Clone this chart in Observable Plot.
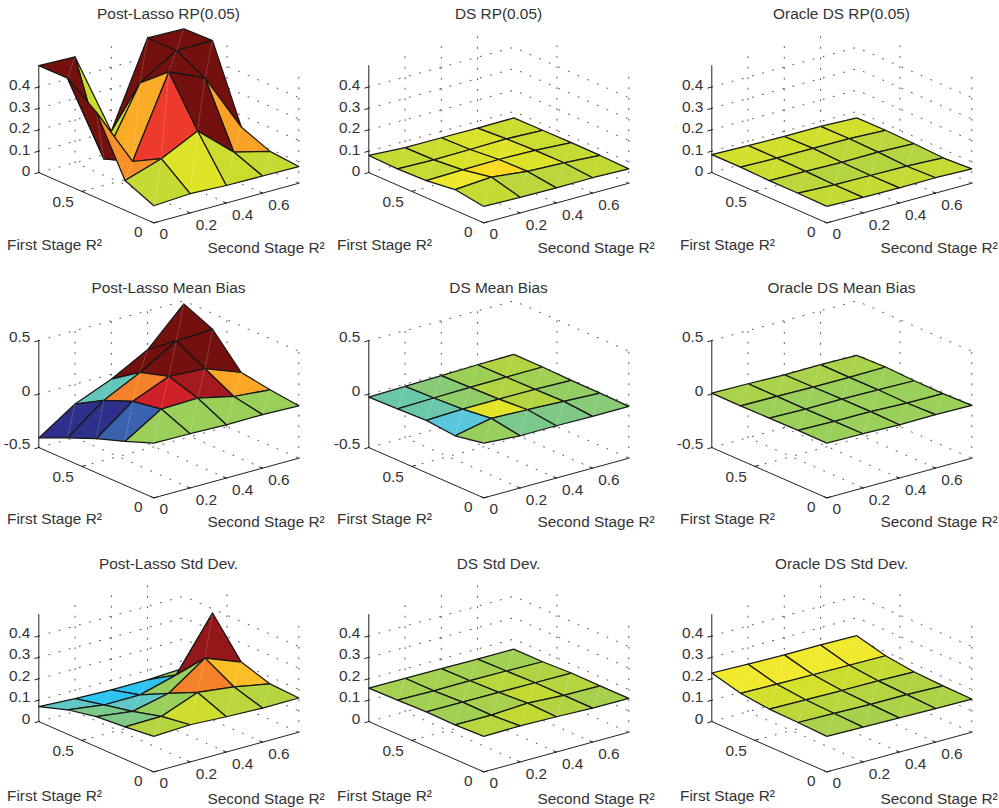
<!DOCTYPE html>
<html>
<head>
<meta charset="utf-8">
<script src="https://cdn.jsdelivr.net/npm/d3@7"></script>
<script src="https://cdn.jsdelivr.net/npm/@observablehq/plot@0.6"></script>
<style>
html,body{margin:0;padding:0;background:#fff}
#fig{position:relative;width:999px;height:808px;overflow:hidden}
#fig svg{position:absolute;background:transparent}
</style>
</head>
<body>
<div id="fig"></div>
<script>
// Grid of the design: rows are First Stage R2 (index i), columns are Second Stage R2 (index j)
const firstGrid = [0, 0.2, 0.4, 0.6, 0.8];
const secondGrid = [0, 0.2, 0.4, 0.6, 0.8];
const firstTicks = [0, 0.5];
const secondTicks = [0, 0.2, 0.4, 0.6];
const rpTicks = [0, 0.1, 0.2, 0.3, 0.4];
const biasTicks = [-0.5, 0, 0.5];
const sdTicks = [0, 0.1, 0.2, 0.3, 0.4];
const rpRange = [0, 0.5];
const biasRange = [-0.5, 0.5];
const sdRange = [0, 0.5];
const rowMetrics = ["RP(0.05)", "Mean Bias", "Std Dev."];
const colMethods = ["Post-Lasso", "DS", "Oracle DS"];
const firstLabel = "First Stage R²";
const secondLabel = "Second Stage R²";

// Surface heights, z[i][j]
const zPostLassoRP = [
 [.08,.09,.082,.08,.078],
 [.139,.195,.278,.133,.09],
 [.40,.123,.495,.42,.145],
 [.50,.077,.385,.49,.49],
 [.50,.494,.10,.49,.486]];
const zDsRP = [
 [.077,.073,.071,.072,.067],
 [.097,.109,.089,.083,.071],
 [.08,.084,.086,.082,.072],
 [.076,.072,.074,.077,.071],
 [.08,.07,.07,.069,.07]];
const zOracleRP = [
 [.077,.073,.071,.072,.067],
 [.08,.073,.07,.067,.06],
 [.08,.077,.073,.074,.067],
 [.084,.08,.079,.078,.071],
 [.084,.08,.076,.077,.07]];
const zPostLassoBias = [
 [.012,.007,-.002,0,-.01],
 [-.09,.12,.13,.052,.022],
 [-.182,.074,.214,.194,.066],
 [-.292,-.034,.134,.336,.352],
 [-.41,-.186,-.046,.136,.472]];
const zDsBias = [
 [.012,-.012,-.011,-.016,-.016],
 [-.037,.033,.021,.006,-.009],
 [-.011,.002,.003,.001,-.008],
 [-.02,-.012,-.005,-.002,0],
 [-.028,-.021,-.013,-.004,0]];
const zOracleBias = [
 [.012,.007,-.002,0,-.006],
 [.013,.005,.003,-.009,-.014],
 [.01,.002,.003,-.003,-.011],
 [.008,.003,-.002,-.005,0],
 [.009,.004,-.005,-.003,-.009]];
const zPostLassoSd = [
 [.166,.174,.165,.159,.16],
 [.152,.154,.22,.2,.167],
 [.141,.119,.157,.275,.21],
 [.114,.09,.091,.138,.381],
 [.07,.061,.055,.056,.064]];
const zDsSd = [
 [.166,.169,.165,.159,.158],
 [.161,.16,.17,.16,.158],
 [.163,.162,.161,.16,.159],
 [.159,.156,.157,.156,.153],
 [.156,.156,.155,.153,.153]];
const zOracleSd = [
 [.166,.163,.16,.157,.155],
 [.172,.168,.164,.163,.158],
 [.176,.173,.17,.169,.164],
 [.191,.187,.185,.183,.181],
 [.227,.222,.219,.219,.216]];

// Facet colour level of each cell, c[i][j]
const cPostLassoRP = [
 [.08,.12,.09,.08],
 [.30,.38,.5,.28],
 [.5,.265,.5,.5],
 [.5,.09,.5,.5]];
const cDsRP = [
 [.08,.06,.06,.075],
 [.15,.2,.115,.08],
 [.08,.11,.12,.09],
 [.08,.09,.11,.09]];
const cOracleRP = [
 [.08,.08,.08,.08],
 [.06,.05,.05,.05],
 [.09,.08,.065,.06],
 [.10,.10,.10,.10]];
const cPostLassoBias = [
 [.005,.005,.005,.005],
 [-.35,.43,.47,.27],
 [-.47,.32,.5,.5],
 [-.47,-.15,.5,.5]];
const cDsBias = [
 [0,-.09,-.08,-.05],
 [-.2,.125,.05,-.01],
 [-.13,-.02,.045,.015],
 [-.13,-.05,.01,.045]];
const cOracleBias = [
 [.005,.005,.005,.005],
 [.005,.005,.005,.005],
 [.005,.005,.005,.005],
 [.03,.03,.03,.03]];
const cPostLassoSd = [
 [.05,.095,.06,.05],
 [-.08,0,.32,.24],
 [-.09,-.17,0,.48],
 [-.17,-.25,-.25,0]];
const cDsSd = [
 [.055,.075,.045,.025],
 [.015,.025,.075,.05],
 [.015,.025,.055,.04],
 [.02,.02,.02,.015]];
const cOracleSd = [
 [.03,.025,.035,.035],
 [.06,.055,.05,.04],
 [.1,.105,.09,.08],
 [.155,.155,.155,.155]];

// Colour map (muted jet)
const colorLevels = [-.5,-.42,-.35,-.25,-.2,-.15,-.08,0,.04,.08,.12,.16,.2,.26,.32,.38,.43,.47,.5];
const colorValues = ["#2c2a83","#2f3a96","#3b62ae","#2dc4f2","#5ac8dc","#62c7b8","#7fc885","#97ce5c","#b0d344","#c5da32","#dfe327","#f2ea2e","#fddb20","#fcb027","#f5822a","#ee3a2c","#d02027","#a41a1e","#74110f"];

const panels = [
 [zPostLassoRP,cPostLassoRP,rpTicks,rpRange],[zDsRP,cDsRP,rpTicks,rpRange],[zOracleRP,cOracleRP,rpTicks,rpRange],
 [zPostLassoBias,cPostLassoBias,biasTicks,biasRange],[zDsBias,cDsBias,biasTicks,biasRange],[zOracleBias,cOracleBias,biasTicks,biasRange],
 [zPostLassoSd,cPostLassoSd,sdTicks,sdRange],[zDsSd,cDsSd,sdTicks,sdRange],[zOracleSd,cOracleSd,sdTicks,sdRange]];

// Page layout and 3-D camera (layout only, no data)
const W = 328, H = 260;
const colLeft = [0, 330, 671.4];
const colShift = [0, 0, 2];
const rowTop = [0, 274.5, 548.5];
const titleShift = [0, -1, .5];
const labelShift = [0, -1.5, 1.5];
const zLabelLift = [-1.5, -3.5, -3];
const cam = {ox:153.3, oy:222.4, sx:181.25, sy:-49.6, fx:-143.75, fy:-62.9, zh:107};
const sMax = secondGrid[4], fMax = firstGrid[4];
const ink = "#333", font = "'Liberation Sans', Arial, sans-serif";

function panel(r, c, [Z, C, zTicks, [zMin, zMax]]) {
  const zk = cam.zh / (zMax - zMin);
  const pt = (s, f, z) => ({u: cam.ox + colShift[c] + s*cam.sx + f*cam.fx, v: cam.oy + s*cam.sy + f*cam.fy - (z - zMin)*zk});
  const path = (...p) => p.map(q => pt(...q));
  const line = (d, o) => Plot.line(d, {x:"u", y:"v", curve:"linear", ...o});

  // Dotted grid on the floor and two back walls
  const dots = [];
  zTicks.forEach(z => dots.push(path([0,fMax,z],[sMax,fMax,z],[sMax,0,z])));
  secondTicks.forEach(s => { if (s>0) dots.push(path([s,0,zMin],[s,fMax,zMin])); });
  firstTicks.forEach(f => { if (f>0) dots.push(path([0,f,zMin],[sMax,f,zMin])); });
  secondTicks.forEach(s => { if (s>0) dots.push(path([s,fMax,zMin],[s,fMax,zMax])); });
  firstTicks.forEach(f => dots.push(path([sMax,f,zMin],[sMax,f,zMax])));
  const gridMarks = dots.map(d => line(d, {stroke:"#222", strokeWidth:.8, strokeDasharray:"1 9.5"}));

  const axisMarks = [
    line(path([0,fMax,zMax],[0,fMax,zMin],[0,0,zMin],[sMax,0,zMin]), {stroke:"#222", strokeWidth:1}),
    ...zTicks.map(z => line(path([-.022,fMax,z],[0,fMax,z]), {stroke:"#222", strokeWidth:1})),
    ...firstTicks.map(f => line(path([0,f,zMin],[.02,f,zMin]), {stroke:"#222", strokeWidth:1})),
    ...secondTicks.map(s => line(path([s,0,zMin],[s,.02,zMin]), {stroke:"#222", strokeWidth:1}))
  ];

  // Surface cells, painted from the back corner to the front
  const cellMarks = [];
  for (let i = 3; i >= 0; i--) for (let j = 3; j >= 0; j--) {
    const v = (a, b) => pt(secondGrid[b], firstGrid[a], Z[a][b]);
    const ring = [v(i,j), v(i,j+1), v(i+1,j+1), v(i+1,j), v(i,j)].map(p => ({...p, c:C[i][j]}));
    cellMarks.push(line(ring, {fill:"c", stroke:"#161616", strokeWidth:1.25, strokeLinejoin:"round"}));
    cellMarks.push(line([v(i,j), v(i+1,j+1)], {stroke:"#fff", strokeWidth:.5, strokeOpacity:.4, strokeDasharray:"3 1.5"}));
  }

  const txt = {fill:ink, fontSize:15.4};
  const zPts = zTicks.map(z => ({...pt(0,fMax,z), t:String(z)}));
  const fPts = firstTicks.map(f => ({...pt(0,f,zMin), t:String(f), z0:f===0}));
  const sPts = secondTicks.map(s => ({...pt(s,0,zMin), t:String(s)}));
  const textMarks = [
    Plot.text(zPts, {x:"u", y:"v", text:"t", textAnchor:"end", dx:-8.5, dy:zLabelLift[r], ...txt}),
    Plot.text(fPts.filter(d=>!d.z0), {x:"u", y:"v", text:"t", dx:-18.7, dy:10.8, ...txt}),
    Plot.text(fPts.filter(d=>d.z0), {x:"u", y:"v", text:"t", dx:-15.6, dy:9.4, ...txt}),
    Plot.text(sPts.filter(d=>d.t==="0"), {x:"u", y:"v", text:"t", dx:10, dy:11, ...txt}),
    Plot.text(sPts.filter(d=>d.t!=="0"), {x:"u", y:"v", text:"t", dx:16.4, dy:12.2, ...txt}),
    Plot.text([colMethods[c] + " " + rowMetrics[r]], {frameAnchor:"top", lineAnchor:"middle", dx:4+colShift[c], dy:14+titleShift[r], ...txt}),
    Plot.text([firstLabel], {frameAnchor:"bottom-left", lineAnchor:"middle", dx:6.5+colShift[c], dy:-15+labelShift[r], ...txt}),
    Plot.text([secondLabel], {frameAnchor:"bottom-left", lineAnchor:"middle", dx:207+colShift[c], dy:-12+labelShift[r], ...txt})
  ];

  const svg = Plot.plot({
    width:W, height:H, margin:0,
    x:{domain:[0,W], range:[0,W], axis:null},
    y:{domain:[0,H], range:[0,H], axis:null},
    color:{type:"linear", domain:colorLevels, range:colorValues},
    style:{fontFamily:font, background:"transparent", overflow:"visible"},
    marks:[...gridMarks, ...axisMarks, ...cellMarks, ...textMarks]
  });
  svg.style.left = colLeft[c] + "px";
  svg.style.top = rowTop[r] + "px";
  return svg;
}

const fig = document.getElementById("fig");
panels.forEach((p, k) => fig.appendChild(panel(Math.floor(k/3), k%3, p)));
</script>
</body>
</html>
